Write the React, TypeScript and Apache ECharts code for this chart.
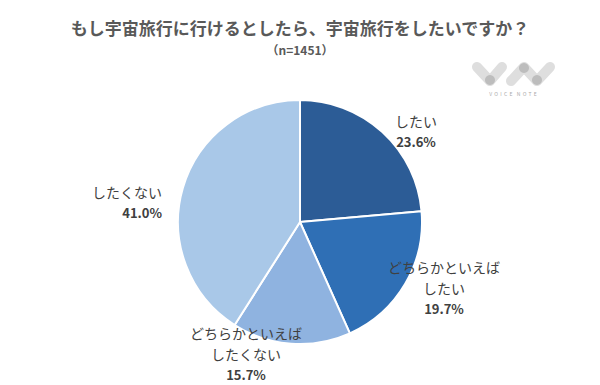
import React, { useEffect, useRef } from "react";
import * as echarts from "echarts";

const TITLE = "もし宇宙旅行に行けるとしたら、宇宙旅行をしたいですか？";
const SUBTITLE = "（n=1451）";
const categories = ["したい", "どちらかといえば\nしたい", "どちらかといえば\nしたくない", "したくない"];
const values = [23.6, 19.7, 15.7, 41.0];
const colors = ["#2c5c96", "#2f6fb5", "#8fb3e0", "#a9c8e8"];
const labelPos: [number, number, string][] = [
  [416, 131, "center"],
  [444, 287, "center"],
  [246, 353, "center"],
  [162, 202, "right"],
];

const FONT = "'Noto Sans CJK JP', 'Noto Sans', sans-serif";

export default function App() {
  const ref = useRef<HTMLDivElement>(null);
  useEffect(() => {
    if (!ref.current) return;
    const chart = echarts.init(ref.current, undefined, { renderer: "svg" });
    const logoLight = "#dedede";
    const logoDark = "#bdbdbd";
    chart.setOption({
      animation: false,
      backgroundColor: "#ffffff",
      title: [
        {
          text: TITLE,
          left: "center",
          top: 14,
          textStyle: { fontFamily: FONT, fontSize: 17, fontWeight: "bold", color: "#595959" },
        },
        {
          text: SUBTITLE,
          left: "center",
          top: 38,
          textStyle: { fontFamily: FONT, fontSize: 12, fontWeight: "bold", color: "#595959" },
        },
      ],
      graphic: [
        {
          type: "polyline",
          shape: { points: [[477, 67], [490, 81], [502, 67]] },
          style: { stroke: logoLight, lineWidth: 10, lineCap: "round", lineJoin: "round", fill: null },
        },
        {
          type: "polyline",
          shape: { points: [[511, 81], [524, 67], [537, 81], [550, 67]] },
          style: { stroke: logoLight, lineWidth: 10, lineCap: "round", lineJoin: "round", fill: null },
        },
        { type: "circle", shape: { cx: 490, cy: 80, r: 5 }, style: { fill: logoDark } },
        { type: "circle", shape: { cx: 524, cy: 68, r: 5 }, style: { fill: logoDark } },
        { type: "circle", shape: { cx: 537, cy: 80, r: 5 }, style: { fill: logoDark } },
        {
          type: "text",
          x: 513,
          y: 93,
          style: {
            text: "V  O  I  C  E    N  O  T  E",
            fontSize: 5,
            fontFamily: FONT,
            fill: "#aaaaaa",
            textAlign: "center",
            textVerticalAlign: "middle",
          },
        },
      ],
      series: [
        {
          type: "pie",
          center: [300, 222],
          radius: [0, 122],
          startAngle: 90,
          clockwise: true,
          data: categories.map((name, i) => ({
            name,
            value: values[i],
            itemStyle: { color: colors[i] },
          })),
          itemStyle: { borderColor: "#ffffff", borderWidth: 2 },
          emphasis: { disabled: true },
          labelLine: { show: false },
          label: {
            show: true,
            position: "outside",
            fontFamily: FONT,
            formatter: (p: any) =>
              String(p.name)
                .split("\n")
                .map((s: string) => `{n|${s}}`)
                .join("\n") + `\n{p|${Number(p.value).toFixed(1)}%}`,
            rich: {
              n: { fontFamily: FONT, fontSize: 14, color: "#404040", lineHeight: 21 },
              p: { fontFamily: FONT, fontSize: 13, fontWeight: "bold", color: "#404040", lineHeight: 20 },
            },
          },
          labelLayout: (params: any) => {
            const lp = labelPos[params.dataIndex];
            return { x: lp[0], y: lp[1], align: lp[2], verticalAlign: "middle", hideOverlap: false };
          },
        },
      ],
    });
    return () => chart.dispose();
  }, []);
  return (
    <div
      ref={ref}
      style={{ position: "absolute", left: 0, top: 0, width: 600, height: 385 }}
    />
  );
}
